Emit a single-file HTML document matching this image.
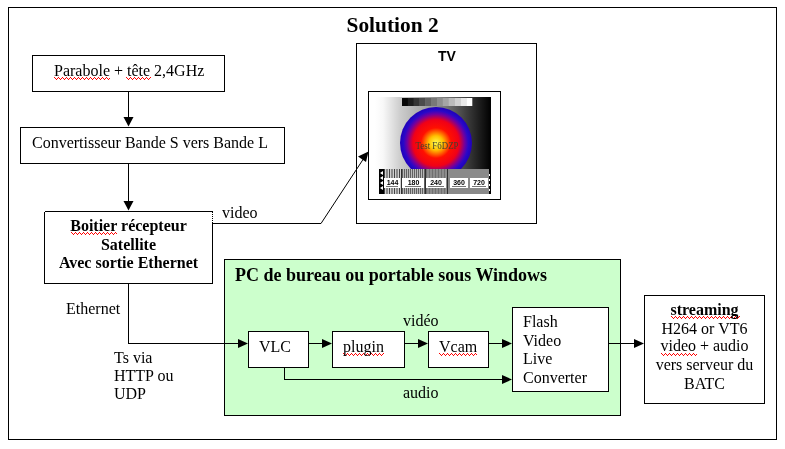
<!DOCTYPE html>
<html><head><meta charset="utf-8">
<style>
html,body{margin:0;padding:0;background:#fff;width:785px;height:449px;overflow:hidden}
svg{display:block;will-change:transform}
.s{font-family:"Liberation Serif",serif;font-size:16px;fill:#000}
.b{font-weight:bold}
.a{font-family:"Liberation Sans",sans-serif;font-weight:bold;font-size:14px}
</style></head><body>
<svg width="785" height="449" viewBox="0 0 785 449">
<defs>
  <linearGradient id="bg" x1="0" x2="1" y1="0" y2="0">
    <stop offset="0" stop-color="#fff"/>
    <stop offset="0.07" stop-color="#f8f8f8"/>
    <stop offset="0.22" stop-color="#cccccc"/>
    <stop offset="0.53" stop-color="#909090"/>
    <stop offset="0.78" stop-color="#404040"/>
    <stop offset="1" stop-color="#000"/>
  </linearGradient>
  <linearGradient id="gs" x1="0" x2="1" y1="0" y2="0">
    <stop offset="0" stop-color="#000"/>
    <stop offset="1" stop-color="#fff"/>
  </linearGradient>
  <radialGradient id="rg" cx="0.5" cy="0.5" r="0.5">
    <stop offset="0" stop-color="#ffff50"/>
    <stop offset="0.2" stop-color="#ffc000"/>
    <stop offset="0.42" stop-color="#ff1000"/>
    <stop offset="0.64" stop-color="#f00018"/>
    <stop offset="0.8" stop-color="#7000a0"/>
    <stop offset="0.9" stop-color="#2808c8"/>
    <stop offset="1" stop-color="#2000b8"/>
  </radialGradient>
</defs>
<g fill="none" stroke="#000" stroke-width="1" shape-rendering="crispEdges">
  <!-- outer frame -->
  <rect x="8.5" y="7.5" width="768" height="432"/>
  <!-- parabole -->
  <rect x="32.5" y="55.5" width="192" height="36"/>
  <!-- convertisseur -->
  <rect x="20.5" y="127.5" width="264" height="36"/>
  <!-- boitier -->
  <path d="M44.5 211.5H212.5M44.5 211.5V283.5H212.5V223"/>
  <!-- TV -->
  <rect x="356.5" y="43.5" width="180" height="180"/>
  <rect x="368.5" y="91.5" width="132" height="108"/>
  <!-- arrows vertical -->
  <path d="M128.5 91V120M128.5 163V204"/>
</g>
<!-- dotted -->
<path d="M212.5 212V223" stroke="#000" stroke-dasharray="1 1" shape-rendering="crispEdges"/>
<!-- video line -->
<path d="M212 223.5H321L364 158" fill="none" stroke="#000" stroke-width="1"/>
<polygon points="368.5,151.5 358,156.5 366,162" fill="#000"/>
<g fill="#000">
  <polygon points="123.5,117 133.5,117 128.5,126.5"/>
  <polygon points="123.5,201 133.5,201 128.5,210.5"/>
</g>

<!-- PC box -->
<rect x="224.5" y="259.5" width="396" height="156" fill="#ccffcc" stroke="#000" shape-rendering="crispEdges"/>
<g fill="#fff" stroke="#000" shape-rendering="crispEdges">
  <rect x="248.5" y="331.5" width="60" height="36"/>
  <rect x="332.5" y="331.5" width="72" height="36"/>
  <rect x="428.5" y="331.5" width="60" height="36"/>
  <rect x="512.5" y="307.5" width="96" height="84"/>
  <rect x="644.5" y="295.5" width="120" height="108"/>
</g>
<g fill="none" stroke="#000" shape-rendering="crispEdges">
  <path d="M308 343.5H324M404 343.5H420M488 343.5H504M608 343.5H636"/>
  <path d="M284.5 367V379.5H504"/>
  <path d="M128.5 283V343.5H241"/>
</g>
<g fill="#000">
  <polygon points="238,339 238,348 248,343.5"/>
  <polygon points="322,339 322,348 332,343.5"/>
  <polygon points="418,339 418,348 428,343.5"/>
  <polygon points="502,339 502,348 512,343.5"/>
  <polygon points="502,375 502,384 512,379.5"/>
  <polygon points="634,339 634,348 644,343.5"/>
</g>

<!-- test card -->
<g>
  <rect x="375" y="97" width="116" height="97" fill="url(#bg)"/>
  <rect x="402.00" y="98" width="6.13" height="8" fill="rgb(8,8,8)"/><rect x="407.83" y="98" width="6.13" height="8" fill="rgb(30,30,30)"/><rect x="413.67" y="98" width="6.13" height="8" fill="rgb(53,53,53)"/><rect x="419.50" y="98" width="6.13" height="8" fill="rgb(75,75,75)"/><rect x="425.33" y="98" width="6.13" height="8" fill="rgb(98,98,98)"/><rect x="431.17" y="98" width="6.13" height="8" fill="rgb(120,120,120)"/><rect x="437.00" y="98" width="6.13" height="8" fill="rgb(143,143,143)"/><rect x="442.83" y="98" width="6.13" height="8" fill="rgb(165,165,165)"/><rect x="448.67" y="98" width="6.13" height="8" fill="rgb(188,188,188)"/><rect x="454.50" y="98" width="6.13" height="8" fill="rgb(210,210,210)"/><rect x="460.33" y="98" width="6.13" height="8" fill="rgb(233,233,233)"/><rect x="466.17" y="98" width="6.13" height="8" fill="rgb(255,255,255)"/>
  <circle cx="436" cy="143" r="36" fill="url(#rg)"/>
  <text x="437" y="149" text-anchor="middle" textLength="43" lengthAdjust="spacingAndGlyphs" style="font-family:'Liberation Serif',serif;font-size:10px;fill:#404030">Test F6DZP</text>
  <rect x="379" y="169" width="112" height="25" fill="#8a8a8a"/>
  <rect x="384" y="169" width="17" height="25" fill="#d0d0d0"/><rect x="384" y="169" width="1" height="25" fill="#444"/><rect x="386.5" y="169" width="1" height="25" fill="#444"/><rect x="389.0" y="169" width="1" height="25" fill="#444"/><rect x="391.5" y="169" width="1" height="25" fill="#444"/><rect x="394.0" y="169" width="1" height="25" fill="#444"/><rect x="396.5" y="169" width="1" height="25" fill="#444"/><rect x="399.0" y="169" width="1" height="25" fill="#444"/><rect x="402" y="169" width="23" height="25" fill="#b8b8b8"/><rect x="402" y="169" width="1" height="25" fill="#606060"/><rect x="404" y="169" width="1" height="25" fill="#606060"/><rect x="406" y="169" width="1" height="25" fill="#606060"/><rect x="408" y="169" width="1" height="25" fill="#606060"/><rect x="410" y="169" width="1" height="25" fill="#606060"/><rect x="412" y="169" width="1" height="25" fill="#606060"/><rect x="414" y="169" width="1" height="25" fill="#606060"/><rect x="416" y="169" width="1" height="25" fill="#606060"/><rect x="418" y="169" width="1" height="25" fill="#606060"/><rect x="420" y="169" width="1" height="25" fill="#606060"/><rect x="422" y="169" width="1" height="25" fill="#606060"/><rect x="424" y="169" width="1" height="25" fill="#606060"/><rect x="426" y="169" width="21" height="25" fill="#a8a8a8"/><rect x="426" y="169" width="1" height="25" fill="#707070"/><rect x="427.5" y="169" width="1" height="25" fill="#707070"/><rect x="429.0" y="169" width="1" height="25" fill="#707070"/><rect x="430.5" y="169" width="1" height="25" fill="#707070"/><rect x="432.0" y="169" width="1" height="25" fill="#707070"/><rect x="433.5" y="169" width="1" height="25" fill="#707070"/><rect x="435.0" y="169" width="1" height="25" fill="#707070"/><rect x="436.5" y="169" width="1" height="25" fill="#707070"/><rect x="438.0" y="169" width="1" height="25" fill="#707070"/><rect x="439.5" y="169" width="1" height="25" fill="#707070"/><rect x="441.0" y="169" width="1" height="25" fill="#707070"/><rect x="442.5" y="169" width="1" height="25" fill="#707070"/><rect x="444.0" y="169" width="1" height="25" fill="#707070"/><rect x="445.5" y="169" width="1" height="25" fill="#707070"/>
  <g fill="#303030">
    <rect x="401" y="169" width="1" height="25"/>
    <rect x="425" y="169" width="1" height="25"/>
    <rect x="447" y="169" width="1" height="25"/>
  </g>
  <rect x="379" y="169" width="5" height="25" fill="#000"/>
  <path fill="#fff" d="M380 173l3 -2v4zM380 178l3 -2v4zM380 183l3 -2v4zM380 188l3 -2v4z"/>
  <rect x="489" y="169" width="2" height="25" fill="#000"/>
  <path fill="#fff" d="M489 174h1v2h-1zM489 179h1v2h-1zM489 184h1v2h-1zM489 189h1v2h-1z"/>
  <g fill="#fff">
    <rect x="384" y="178" width="16" height="10"/>
    <rect x="402" y="178" width="22" height="10"/>
    <rect x="426" y="178" width="20" height="10"/>
    <rect x="450" y="178" width="18" height="10"/>
    <rect x="470" y="178" width="18" height="10"/>
  </g>
  <g style="font-family:'Liberation Sans',sans-serif;font-weight:bold;font-size:7px;fill:#000" text-anchor="middle">
    <text x="392.5" y="185">144</text>
    <text x="413.5" y="185">180</text>
    <text x="436" y="185">240</text>
    <text x="459" y="185">360</text>
    <text x="479" y="185">720</text>
  </g>
  <g fill="#777">
    <rect x="386" y="186" width="12" height="1"/>
    <rect x="405" y="186" width="16" height="1"/>
    <rect x="428" y="186" width="16" height="1"/>
    <rect x="452" y="186" width="14" height="1"/>
    <rect x="472" y="186" width="14" height="1"/>
  </g>
</g>

<!-- texts -->
<path fill="#f00" d="M54 77h1v1h-1zM55 78h1v1h-1zM56 79h1v1h-1zM57 78h1v1h-1zM58 77h1v1h-1zM59 78h1v1h-1zM60 79h1v1h-1zM61 78h1v1h-1zM62 77h1v1h-1zM63 78h1v1h-1zM64 79h1v1h-1zM65 78h1v1h-1zM66 77h1v1h-1zM67 78h1v1h-1zM68 79h1v1h-1zM69 78h1v1h-1zM70 77h1v1h-1zM71 78h1v1h-1zM72 79h1v1h-1zM73 78h1v1h-1zM74 77h1v1h-1zM75 78h1v1h-1zM76 79h1v1h-1zM77 78h1v1h-1zM78 77h1v1h-1zM79 78h1v1h-1zM80 79h1v1h-1zM81 78h1v1h-1zM82 77h1v1h-1zM83 78h1v1h-1zM84 79h1v1h-1zM85 78h1v1h-1zM86 77h1v1h-1zM87 78h1v1h-1zM88 79h1v1h-1zM89 78h1v1h-1zM90 77h1v1h-1zM91 78h1v1h-1zM92 79h1v1h-1zM93 78h1v1h-1zM94 77h1v1h-1zM95 78h1v1h-1zM96 79h1v1h-1zM97 78h1v1h-1zM98 77h1v1h-1zM99 78h1v1h-1zM100 79h1v1h-1zM101 78h1v1h-1zM102 77h1v1h-1zM103 78h1v1h-1zM104 79h1v1h-1zM105 78h1v1h-1zM106 77h1v1h-1zM107 78h1v1h-1zM108 79h1v1h-1zM109 78h1v1h-1zM126 77h1v1h-1zM127 78h1v1h-1zM128 79h1v1h-1zM129 78h1v1h-1zM130 77h1v1h-1zM131 78h1v1h-1zM132 79h1v1h-1zM133 78h1v1h-1zM134 77h1v1h-1zM135 78h1v1h-1zM136 79h1v1h-1zM137 78h1v1h-1zM138 77h1v1h-1zM139 78h1v1h-1zM140 79h1v1h-1zM141 78h1v1h-1zM142 77h1v1h-1zM143 78h1v1h-1zM144 79h1v1h-1zM145 78h1v1h-1zM146 77h1v1h-1zM147 78h1v1h-1zM148 79h1v1h-1zM149 78h1v1h-1zM150 77h1v1h-1zM71 232h1v1h-1zM72 233h1v1h-1zM73 234h1v1h-1zM74 233h1v1h-1zM75 232h1v1h-1zM76 233h1v1h-1zM77 234h1v1h-1zM78 233h1v1h-1zM79 232h1v1h-1zM80 233h1v1h-1zM81 234h1v1h-1zM82 233h1v1h-1zM83 232h1v1h-1zM84 233h1v1h-1zM85 234h1v1h-1zM86 233h1v1h-1zM87 232h1v1h-1zM88 233h1v1h-1zM89 234h1v1h-1zM90 233h1v1h-1zM91 232h1v1h-1zM92 233h1v1h-1zM93 234h1v1h-1zM94 233h1v1h-1zM95 232h1v1h-1zM96 233h1v1h-1zM97 234h1v1h-1zM98 233h1v1h-1zM99 232h1v1h-1zM100 233h1v1h-1zM101 234h1v1h-1zM102 233h1v1h-1zM103 232h1v1h-1zM104 233h1v1h-1zM105 234h1v1h-1zM106 233h1v1h-1zM107 232h1v1h-1zM108 233h1v1h-1zM109 234h1v1h-1zM110 233h1v1h-1zM111 232h1v1h-1zM112 233h1v1h-1zM113 234h1v1h-1zM114 233h1v1h-1zM115 232h1v1h-1zM116 233h1v1h-1zM343 353h1v1h-1zM344 354h1v1h-1zM345 355h1v1h-1zM346 354h1v1h-1zM347 353h1v1h-1zM348 354h1v1h-1zM349 355h1v1h-1zM350 354h1v1h-1zM351 353h1v1h-1zM352 354h1v1h-1zM353 355h1v1h-1zM354 354h1v1h-1zM355 353h1v1h-1zM356 354h1v1h-1zM357 355h1v1h-1zM358 354h1v1h-1zM359 353h1v1h-1zM360 354h1v1h-1zM361 355h1v1h-1zM362 354h1v1h-1zM363 353h1v1h-1zM364 354h1v1h-1zM365 355h1v1h-1zM366 354h1v1h-1zM367 353h1v1h-1zM368 354h1v1h-1zM369 355h1v1h-1zM370 354h1v1h-1zM371 353h1v1h-1zM372 354h1v1h-1zM373 355h1v1h-1zM374 354h1v1h-1zM375 353h1v1h-1zM376 354h1v1h-1zM377 355h1v1h-1zM378 354h1v1h-1zM379 353h1v1h-1zM380 354h1v1h-1zM381 355h1v1h-1zM382 354h1v1h-1zM383 353h1v1h-1zM439 353h1v1h-1zM440 354h1v1h-1zM441 355h1v1h-1zM442 354h1v1h-1zM443 353h1v1h-1zM444 354h1v1h-1zM445 355h1v1h-1zM446 354h1v1h-1zM447 353h1v1h-1zM448 354h1v1h-1zM449 355h1v1h-1zM450 354h1v1h-1zM451 353h1v1h-1zM452 354h1v1h-1zM453 355h1v1h-1zM454 354h1v1h-1zM455 353h1v1h-1zM456 354h1v1h-1zM457 355h1v1h-1zM458 354h1v1h-1zM459 353h1v1h-1zM460 354h1v1h-1zM461 355h1v1h-1zM462 354h1v1h-1zM463 353h1v1h-1zM464 354h1v1h-1zM465 355h1v1h-1zM466 354h1v1h-1zM467 353h1v1h-1zM468 354h1v1h-1zM469 355h1v1h-1zM470 354h1v1h-1zM471 353h1v1h-1zM472 354h1v1h-1zM473 355h1v1h-1zM474 354h1v1h-1zM475 353h1v1h-1zM476 354h1v1h-1zM671 316h1v1h-1zM672 317h1v1h-1zM673 318h1v1h-1zM674 317h1v1h-1zM675 316h1v1h-1zM676 317h1v1h-1zM677 318h1v1h-1zM678 317h1v1h-1zM679 316h1v1h-1zM680 317h1v1h-1zM681 318h1v1h-1zM682 317h1v1h-1zM683 316h1v1h-1zM684 317h1v1h-1zM685 318h1v1h-1zM686 317h1v1h-1zM687 316h1v1h-1zM688 317h1v1h-1zM689 318h1v1h-1zM690 317h1v1h-1zM691 316h1v1h-1zM692 317h1v1h-1zM693 318h1v1h-1zM694 317h1v1h-1zM695 316h1v1h-1zM696 317h1v1h-1zM697 318h1v1h-1zM698 317h1v1h-1zM699 316h1v1h-1zM700 317h1v1h-1zM701 318h1v1h-1zM702 317h1v1h-1zM703 316h1v1h-1zM704 317h1v1h-1zM705 318h1v1h-1zM706 317h1v1h-1zM707 316h1v1h-1zM708 317h1v1h-1zM709 318h1v1h-1zM710 317h1v1h-1zM711 316h1v1h-1zM712 317h1v1h-1zM713 318h1v1h-1zM714 317h1v1h-1zM715 316h1v1h-1zM716 317h1v1h-1zM717 318h1v1h-1zM718 317h1v1h-1zM719 316h1v1h-1zM720 317h1v1h-1zM721 318h1v1h-1zM722 317h1v1h-1zM723 316h1v1h-1zM724 317h1v1h-1zM725 318h1v1h-1zM726 317h1v1h-1zM727 316h1v1h-1zM728 317h1v1h-1zM729 318h1v1h-1zM730 317h1v1h-1zM731 316h1v1h-1zM732 317h1v1h-1zM733 318h1v1h-1zM734 317h1v1h-1zM735 316h1v1h-1zM736 317h1v1h-1zM737 318h1v1h-1zM738 317h1v1h-1zM739 316h1v1h-1zM661 353h1v1h-1zM662 354h1v1h-1zM663 355h1v1h-1zM664 354h1v1h-1zM665 353h1v1h-1zM666 354h1v1h-1zM667 355h1v1h-1zM668 354h1v1h-1zM669 353h1v1h-1zM670 354h1v1h-1zM671 355h1v1h-1zM672 354h1v1h-1zM673 353h1v1h-1zM674 354h1v1h-1zM675 355h1v1h-1zM676 354h1v1h-1zM677 353h1v1h-1zM678 354h1v1h-1zM679 355h1v1h-1zM680 354h1v1h-1zM681 353h1v1h-1zM682 354h1v1h-1zM683 355h1v1h-1zM684 354h1v1h-1zM685 353h1v1h-1zM686 354h1v1h-1zM687 355h1v1h-1zM688 354h1v1h-1zM689 353h1v1h-1zM690 354h1v1h-1zM691 355h1v1h-1zM692 354h1v1h-1zM693 353h1v1h-1zM694 354h1v1h-1zM695 355h1v1h-1zM696 354h1v1h-1z"/>
<text class="s b" x="346.5" y="32" style="font-size:21.4px">Solution 2</text>
<text class="s" x="54" y="75.5">Parabole + tête 2,4GHz</text>
<text class="s" x="32" y="148">Convertisseur Bande S vers Bande L</text>
<g class="s b" text-anchor="middle">
  <text x="128.5" y="231">Boitier récepteur</text>
  <text x="128.5" y="250">Satellite</text>
  <text x="128.5" y="268">Avec sortie Ethernet</text>
</g>
<text class="s" x="222" y="218">video</text>
<text class="a" x="438" y="61">TV</text>
<text class="s" x="66" y="314">Ethernet</text>
<text class="s" x="114" y="363">Ts via</text>
<text class="s" x="114" y="381">HTTP ou</text>
<text class="s" x="114" y="399">UDP</text>
<text class="s b" x="235" y="281" style="font-size:18px">PC de bureau ou portable sous Windows</text>
<text class="s" x="259" y="352">VLC</text>
<text class="s" x="343" y="352">plugin</text>
<text class="s" x="439" y="352">Vcam</text>
<text class="s" x="403" y="326">vidéo</text>
<text class="s" x="403" y="398">audio</text>
<text class="s" x="523" y="327">Flash</text>
<text class="s" x="523" y="346">Video</text>
<text class="s" x="523" y="364">Live</text>
<text class="s" x="523" y="383">Converter</text>
<g class="s" text-anchor="middle">
  <text class="b" x="704.5" y="315">streaming</text>
  <text x="704.5" y="333.5">H264 or VT6</text>
  <text x="704.5" y="351">video + audio</text>
  <text x="704.5" y="370">vers serveur du</text>
  <text x="704.5" y="389">BATC</text>
</g>
</svg>
</body></html>
